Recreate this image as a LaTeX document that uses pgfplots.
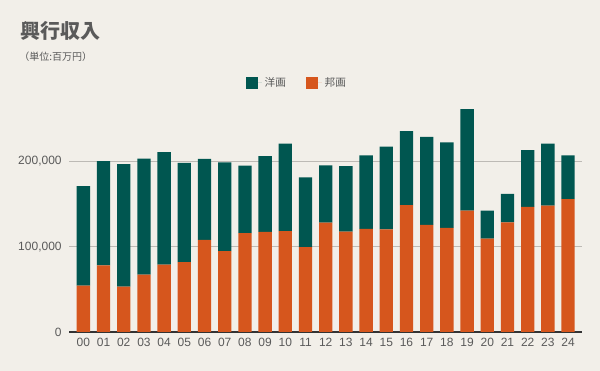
\documentclass[border=0pt]{standalone}
\usepackage{pgfplots}
\pgfplotsset{compat=1.18}
\usepackage{fontspec}
\setmainfont{Liberation Sans}
\newfontfamily\jp{Noto Sans CJK JP}
\definecolor{bg}{HTML}{F2EFE9}
\definecolor{green}{HTML}{005650}
\definecolor{orange}{HTML}{D6561D}
\definecolor{txt}{HTML}{5A5A5A}
\definecolor{gridc}{HTML}{BDBAB5}
\begin{document}
\begin{tikzpicture}
\fill[bg] (0,0) rectangle (450pt,278.25pt);
\node[anchor=west, inner sep=0pt, text=txt, font=\jp\bfseries\fontsize{15pt}{17pt}\selectfont] at (15pt,255.2pt) {興行収入};
\node[anchor=west, inner sep=0pt, text=txt, font=\jp\fontsize{7.5pt}{8pt}\selectfont] at (14.25pt,235.7pt) {（単位:百万円）};
\begin{axis}[
  at={(51.75pt,29.25pt)}, anchor=south west,
  scale only axis, width=384.75pt, height=170.25pt,
  ybar stacked, bar width=0.66,
  xmin=-0.71, xmax=24.69, ymin=0, ymax=266000,
  xtick=data,
  xticklabels={00,01,02,03,04,05,06,07,08,09,10,11,12,13,14,15,16,17,18,19,20,21,22,23,24},
  ytick={100000,200000},
  extra y ticks={0}, extra y tick labels={0},
  extra y tick style={grid style={draw=black!80, line width=1.1pt}},
  ymajorgrids, grid style={draw=gridc, line width=0.6pt},
  axis line style={draw=none}, major tick length=0pt,
  scaled y ticks=false,
  /pgf/number format/.cd, fixed, precision=0, 1000 sep={,}, assume math mode=true, /pgfplots/.cd,
  tick label style={text=txt, font=\fontsize{9pt}{10pt}\selectfont},
  yticklabel style={xshift=-2pt},
  xticklabel style={yshift=-1pt},
  reverse legend,
  legend columns=2,
  legend style={draw=none, fill=none, at={(0.445,1.099)}, anchor=center,
    font=\jp\fontsize{8pt}{9pt}\selectfont, text=txt,
    /tikz/every even column/.append style={column sep=13pt}},
  legend image code/.code={\fill[#1] (0pt,-4.5pt) rectangle (9pt,4.5pt); \path (0pt,0pt) -- (12pt,0pt);},
]
\addplot[fill=orange, draw=none] coordinates {
(0,54334) (1,78144) (2,53294) (3,67125) (4,79054) (5,81780) (6,107944) (7,94645) (8,115859) (9,117309)
(10,118217) (11,99531) (12,128181) (13,117685) (14,120715) (15,120367) (16,148608) (17,125483) (18,122029) (19,142192)
(20,109276) (21,128339) (22,146527) (23,148143) (24,155800)};
\addlegendentry{邦画}
\addplot[fill=green, draw=none] coordinates {
(0,116528) (1,122036) (2,143486) (3,136134) (4,131860) (5,116380) (6,94990) (7,104147) (8,78977) (9,88726)
(10,102521) (11,81666) (12,67009) (13,76552) (14,86319) (15,96752) (16,86900) (17,103089) (18,100082) (19,118988)
(20,33009) (21,33554) (22,66584) (23,72657) (24,51183)};
\addlegendentry{洋画}
\end{axis}
\pgfresetboundingbox
\path (0,0) rectangle (450pt,278.25pt);
\end{tikzpicture}
\end{document}
